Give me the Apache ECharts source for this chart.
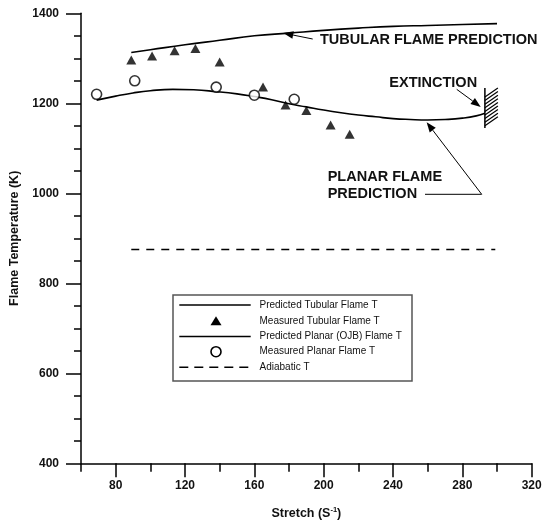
<!DOCTYPE html>
<html><head><meta charset="utf-8">
<script src="https://cdn.jsdelivr.net/npm/echarts@6/dist/echarts.min.js"></script>
<style>html,body{margin:0;padding:0;background:#fff}#c{width:544px;height:527px}</style>
</head><body><div id="c"></div>
<script>
// ---- data ----
const xMajorTicks = [80, 120, 160, 200, 240, 280, 320];
const xMinorTicks = [60, 100, 140, 180, 220, 260, 300];
const yMajorTicks = [400, 600, 800, 1000, 1200, 1400];

const tubularPredX = [89, 100, 120, 140, 160, 180, 200, 220, 240, 260, 280, 300];
const tubularPredY = [1313, 1319, 1330, 1340, 1350, 1356, 1362, 1367, 1371, 1373, 1375, 1377];

const tubularMeasX = [89, 101, 114, 126, 140, 165, 178, 190, 204, 215];
const tubularMeasY = [1296, 1305, 1317, 1322, 1292, 1236, 1196, 1184, 1152, 1131];

const planarPredX = [69, 80, 90, 100, 113, 125, 138, 150, 160, 170, 180, 190, 200, 210, 220, 230, 240, 250, 260, 270, 280, 288, 293];
const planarPredY = [1207, 1216, 1223, 1228, 1231, 1230, 1226, 1221, 1215, 1208, 1199, 1192, 1185, 1179, 1174, 1170, 1166, 1164, 1163, 1164, 1167, 1172, 1178];

const planarMeasX = [69, 91, 138, 160, 183];
const planarMeasY = [1220, 1250, 1236, 1218, 1209];

const adiabaticX = [89, 299];
const adiabaticY = [875, 875];

const extinctionX = [293];
const extinctionYLow = [1145];
const extinctionYHigh = [1234];

const seriesNames = ['Predicted Tubular Flame T', 'Measured Tubular Flame T', 'Predicted Planar (OJB) Flame T', 'Measured Planar Flame T', 'Adiabatic T'];

// annotation anchor points (data coordinates of arrow tips)
const tubularArrowTip = [176.7, 1356];
const extinctionArrowTip = [290.6, 1192];
const planarArrowTip = [259.4, 1158];

// ---- chart ----
const pairs = (xs, ys) => xs.map((x, i) => [x, ys[i]]);
const FONT = '"Liberation Sans", Arial, Helvetica, sans-serif';
const chart = echarts.init(document.getElementById('c'), null, {renderer: 'canvas'});

const axisLineStyle = {color: '#000', width: 1.5};
const option = {
  animation: false,
  backgroundColor: '#fff',
  grid: {left: 81, right: 12.3, top: 13.3, bottom: 63.7, containLabel: false, outerBoundsMode: 'none'},
  xAxis: [{
    type: 'value', min: 60, max: 320, interval: 20,
    name: 'Stretch (S{sup|-1})', nameLocation: 'middle', nameGap: 43,
    nameTextStyle: {fontFamily: FONT, fontWeight: 'bold', fontSize: 12.5, color: '#111',
      rich: {sup: {fontFamily: FONT, fontWeight: 'bold', fontSize: 7.5, color: '#111', verticalAlign: 'top', padding: [0, 0, 6, 0]}}},
    axisLine: {show: true, onZero: false, lineStyle: axisLineStyle},
    axisTick: {show: true, length: 14, customValues: xMajorTicks, lineStyle: {color: '#000', width: 1.5}},
    axisLabel: {show: true, customValues: xMajorTicks, margin: 16, fontFamily: FONT, fontWeight: 'bold', fontSize: 12, color: '#111',
      formatter: (v) => String(v)},
    splitLine: {show: false}
  }, {
    type: 'value', min: 60, max: 320, interval: 20, position: 'bottom',
    axisLine: {show: false},
    axisTick: {show: true, length: 8.5, customValues: xMinorTicks, lineStyle: {color: '#000', width: 1.5}},
    axisLabel: {show: false},
    splitLine: {show: false}
  }],
  yAxis: [{
    type: 'value', min: 400, max: 1400, interval: 200,
    name: 'Flame Temperature (K)', nameLocation: 'middle', nameGap: 59,
    nameTextStyle: {fontFamily: FONT, fontWeight: 'bold', fontSize: 12.5, color: '#111'},
    axisLine: {show: true, onZero: false, lineStyle: axisLineStyle},
    axisTick: {show: true, length: 15, lineStyle: {color: '#000', width: 1.5}},
    minorTick: {show: true, splitNumber: 4, length: 7, lineStyle: {color: '#000', width: 1.5}},
    axisLabel: {margin: 22, fontFamily: FONT, fontWeight: 'bold', fontSize: 12, color: '#111',
      formatter: (v) => String(v)},
    splitLine: {show: false}, minorSplitLine: {show: false}
  }],
  series: [
    {name: seriesNames[0], type: 'line', data: pairs(tubularPredX, tubularPredY), smooth: true, symbol: 'none',
      lineStyle: {color: '#000', width: 1.6}, z: 3},
    {name: seriesNames[1], type: 'scatter', data: pairs(tubularMeasX, tubularMeasY), symbol: 'triangle', symbolSize: [10, 9],
      itemStyle: {color: '#000'}, z: 4},
    {name: seriesNames[2], type: 'line', data: pairs(planarPredX, planarPredY), smooth: true, symbol: 'none',
      lineStyle: {color: '#000', width: 1.6}, z: 3},
    {name: seriesNames[3], type: 'scatter', data: pairs(planarMeasX, planarMeasY), symbol: 'circle', symbolSize: 10,
      itemStyle: {color: '#fff', borderColor: '#000', borderWidth: 1.6}, z: 5},
    {name: seriesNames[4], type: 'line', data: pairs(adiabaticX, adiabaticY), symbol: 'none',
      lineStyle: {color: '#000', width: 1.5, type: [8, 7]}, z: 3},
    {name: 'Extinction', type: 'custom', z: 4,
      data: extinctionX.map((x, i) => [x, extinctionYLow[i], extinctionYHigh[i]]),
      renderItem: function (params, api) {
        const top = api.coord([api.value(0), api.value(2)]);
        const bot = api.coord([api.value(0), api.value(1)]);
        const children = [{type: 'line', shape: {x1: top[0], y1: top[1], x2: bot[0], y2: bot[1]}, style: {stroke: '#000', lineWidth: 1.5}}];
        const w = 13, slope = 9;
        for (let y = top[1] + slope; y <= bot[1] + 0.5; y += 3.6) {
          children.push({type: 'line', shape: {x1: top[0], y1: y, x2: top[0] + w, y2: y - slope}, style: {stroke: '#000', lineWidth: 1.2}});
        }
        return {type: 'group', children: children};
      }}
  ]
};
chart.setOption(option);

// ---- annotations & legend ----
const P = (pt) => chart.convertToPixel({seriesIndex: 0}, pt);
function arrow(from, to, size) {
  const dx = to[0] - from[0], dy = to[1] - from[1];
  const L = Math.hypot(dx, dy), ux = dx / L, uy = dy / L;
  const bx = to[0] - ux * size, by = to[1] - uy * size, w = size * 0.38;
  return [
    {type: 'line', shape: {x1: from[0], y1: from[1], x2: bx, y2: by}, style: {stroke: '#000', lineWidth: 1}},
    {type: 'polygon', shape: {points: [to, [bx - uy * w, by + ux * w], [bx + uy * w, by - ux * w]]}, style: {fill: '#000'}}
  ];
}
const BOLD = 'bold 14.5px ' + FONT;
const txt = (s, x, y, font) => ({type: 'text', x: x, y: y, style: {text: s, font: font, fill: '#111', verticalAlign: 'middle', align: 'left'}});

const g = [];
g.push(txt('TUBULAR FLAME PREDICTION', 320, 40, BOLD));
g.push(...arrow([312.7, 39], P(tubularArrowTip), 10));
g.push(txt('EXTINCTION', 389.3, 82.7, BOLD));
g.push(...arrow([456.7, 89.3], P(extinctionArrowTip), 10));
g.push(txt('PLANAR FLAME', 327.7, 176.7, BOLD));
g.push(txt('PREDICTION', 327.7, 194.3, BOLD));
g.push({type: 'line', shape: {x1: 425, y1: 194.3, x2: 481.7, y2: 194.3}, style: {stroke: '#000', lineWidth: 1}});
g.push(...arrow([481.7, 194.3], P(planarArrowTip), 10));

// legend box
const LX = 173, LY = 295, LW = 239, LH = 86;
g.push({type: 'rect', shape: {x: LX, y: LY, width: LW, height: LH}, style: {fill: '#fff', stroke: '#555', lineWidth: 1.5}, z: 10});
const rows = [305, 321.3, 336.5, 351.7, 367.3];
const sx1 = 179.3, sx2 = 250.7, sxc = 216, tx = 259.5;
const LF = '10px ' + FONT;
g.push({type: 'line', shape: {x1: sx1, y1: rows[0], x2: sx2, y2: rows[0]}, style: {stroke: '#000', lineWidth: 1.5}, z: 11});
g.push({type: 'polygon', shape: {points: [[sxc, rows[1] - 5], [sxc - 5.5, rows[1] + 4], [sxc + 5.5, rows[1] + 4]]}, style: {fill: '#000'}, z: 11});
g.push({type: 'line', shape: {x1: sx1, y1: rows[2], x2: sx2, y2: rows[2]}, style: {stroke: '#000', lineWidth: 1.5}, z: 11});
g.push({type: 'circle', shape: {cx: sxc, cy: rows[3], r: 5}, style: {fill: '#fff', stroke: '#000', lineWidth: 1.6}, z: 11});
g.push({type: 'line', shape: {x1: sx1, y1: rows[4], x2: sx2, y2: rows[4]}, style: {stroke: '#000', lineWidth: 1.5, lineDash: [9, 6]}, z: 11});
seriesNames.forEach((n, i) => {
  const t = txt(n, tx, rows[i], LF); t.z = 11; g.push(t);
});
chart.setOption({graphic: {elements: g}});
</script>
</body></html>
